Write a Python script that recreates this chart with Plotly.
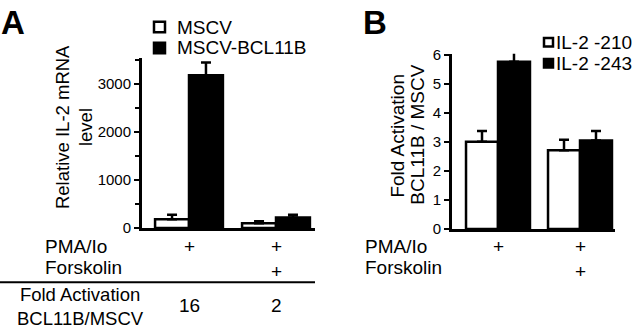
import plotly.graph_objects as go

W, H = 640, 335

# ---------------- data ----------------
groups = [0, 1]
# Panel A: relative IL-2 mRNA level
a_mscv = [180, 100]
a_mscv_err = [98, 40]
a_bcl = [3185, 218]
a_bcl_err = [265, 60]
a_tickvals = [0, 1000, 2000, 3000]
a_fold = ["16", "2"]
# Panel B: fold activation BCL11B / MSCV
b_210 = [3.0, 2.71]
b_210_err = [0.37, 0.36]
b_243 = [5.75, 3.04]
b_243_err = [0.43, 0.33]
b_tickvals = [0, 1, 2, 3, 4, 5, 6]
row_pma = ["+", "+"]
row_forsk = ["", "+"]

FONT = "Liberation Sans, Arial, sans-serif"


def px(x):
    return x / W


def py(y):
    return 1 - y / H


def xrange(left, right, c1, c2):
    unit = c2 - c1
    return [(left - c1) / unit, (right - c1) / unit]


def bar(x, y, err, fill, xa, ya):
    return go.Bar(
        x=x, y=y, xaxis=xa, yaxis=ya, showlegend=False,
        marker=dict(color=fill, line=dict(color="black", width=2.5)),
        error_y=dict(type="data", symmetric=False, array=err,
                     arrayminus=[0] * len(err), color="black",
                     thickness=2.5, width=5),
    )


fig = go.Figure()
fig.add_trace(bar(groups, a_mscv, a_mscv_err, "white", "x", "y"))
fig.add_trace(bar(groups, a_bcl, a_bcl_err, "black", "x", "y"))
fig.add_trace(bar(groups, b_210, b_210_err, "white", "x2", "y2"))
fig.add_trace(bar(groups, b_243, b_243_err, "black", "x2", "y2"))

xcommon = dict(showline=True, linecolor="black", linewidth=3, ticks="",
               showticklabels=False, showgrid=False, zeroline=False)
ycommon = dict(showline=True, linecolor="black", linewidth=3, ticks="outside",
               ticklen=5, tickwidth=2, tickcolor="black", showgrid=False,
               zeroline=False, tickfont=dict(size=15, color="black", family=FONT))

fig.update_layout(
    width=W, height=H, margin=dict(l=0, r=0, t=0, b=0),
    paper_bgcolor="white", plot_bgcolor="white",
    barmode="group", bargap=0.22, bargroupgap=0,
    font=dict(family=FONT, size=19, color="black"),
    xaxis=dict(domain=[px(142), px(315)], range=xrange(142, 315, 189, 276), **xcommon),
    yaxis=dict(domain=[py(231), py(52)], range=[0, 3556], tickvals=a_tickvals,
               anchor="x",
               minor=dict(ticks="outside", dtick=500, ticklen=4, tickwidth=2,
                          tickcolor="black", showgrid=False),
               **ycommon),
    xaxis2=dict(domain=[px(452), px(615)], range=xrange(452, 615, 498, 580),
                anchor="y2", **xcommon),
    yaxis2=dict(domain=[py(232), py(48)], range=[0, 6.03], tickvals=b_tickvals,
                anchor="x2", **ycommon),
)

ann = []


def text(t, x, y, xanchor="center", size=19, angle=0, bold=False, xref="paper"):
    ann.append(dict(text=f"<b>{t}</b>" if bold else t,
                    x=x if xref != "paper" else px(x), y=py(y),
                    xref=xref, yref="paper", xanchor=xanchor, yanchor="middle",
                    showarrow=False, textangle=angle,
                    font=dict(size=size, color="black", family=FONT)))


# panel letters
text("A", 13, 15, size=33, bold=True)
text("B", 375, 15, size=33, bold=True)

# legends (text)
text("MSCV", 175, 20, xanchor="left")
text("MSCV-BCL11B", 175, 42, xanchor="left")
text("IL-2 -210", 554, 36, xanchor="left")
text("IL-2 -243", 554, 58, xanchor="left")

# y titles
text("Relative IL-2 mRNA", 62, 125, angle=-90, size=18.5)
text("level", 85, 125, angle=-90, size=18.5)
text("Fold Activation", 398, 134, angle=-90)
text("BCL11B / MSCV", 418, 133, angle=-90)

# treatment rows
for x0 in (43, 363):
    text("PMA/Io", x0, 250, xanchor="left")
    text("Forskolin", x0, 273, xanchor="left")
for xr in ("x", "x2"):
    for g, p, f in zip(groups, row_pma, row_forsk):
        text(p, g, 250, xref=xr)
        if f:
            text(f, g, 277, xref=xr)

# fold activation row (panel A)
text("Fold Activation<br>BCL11B/MSCV", 80, 313, size=18.5)
for g, v in zip(groups, a_fold):
    text(v, g, 312, xref="x")

shapes = [
    dict(type="line", xref="paper", yref="paper", x0=px(0), x1=px(315),
         y0=py(288), y1=py(288), line=dict(color="black", width=2)),
    dict(type="rect", xref="paper", yref="paper", x0=px(154), x1=px(165),
         y0=py(25.5), y1=py(14.5), fillcolor="white", line=dict(color="black", width=2.5)),
    dict(type="rect", xref="paper", yref="paper", x0=px(154), x1=px(165),
         y0=py(47.5), y1=py(36.5), fillcolor="black", line=dict(color="black", width=2.5)),
    dict(type="rect", xref="paper", yref="paper", x0=px(544), x1=px(553),
         y0=py(40.5), y1=py(31.5), fillcolor="white", line=dict(color="black", width=2.5)),
    dict(type="rect", xref="paper", yref="paper", x0=px(544), x1=px(553),
         y0=py(62.5), y1=py(53.5), fillcolor="black", line=dict(color="black", width=2.5)),
]

fig.update_layout(annotations=ann, shapes=shapes)
fig.write_html("out.html", config={"displayModeBar": False},
               post_script="document.body.style.margin='0';")
